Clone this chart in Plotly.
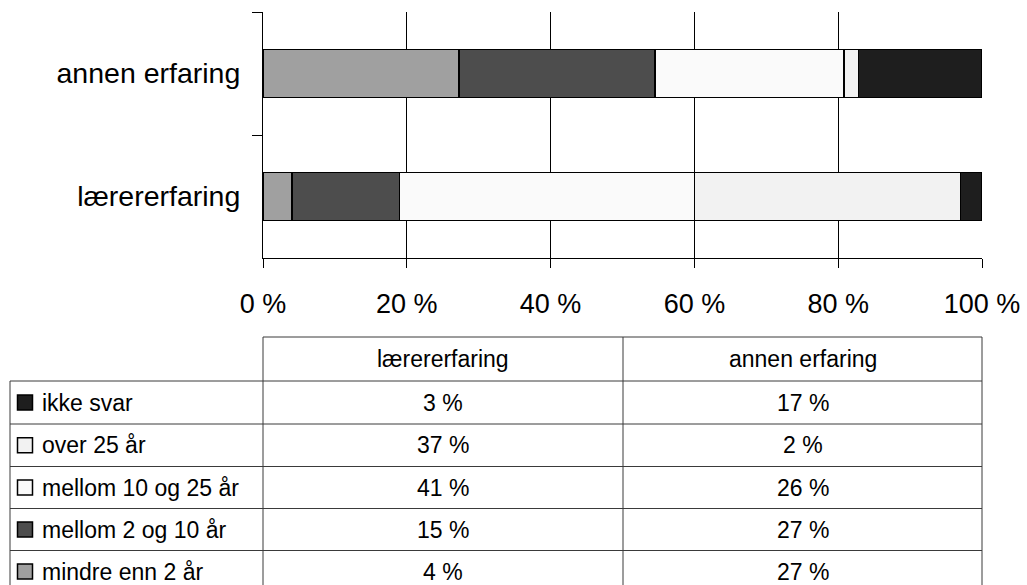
import plotly.graph_objects as go

# ---- data -------------------------------------------------------------
categories = ["lærererfaring", "annen erfaring"]
series_names = ["mindre enn 2 år", "mellom 2 og 10 år", "mellom 10 og 25 år",
                "over 25 år", "ikke svar"]
laerer_values = [4, 15, 41, 37, 3]
annen_values = [27, 27, 26, 2, 17]
series_colors = ["#a0a0a0", "#4d4d4d", "#fafafa", "#f2f2f2", "#1e1e1e"]
x_tickvals = [0, 20, 40, 60, 80, 100]
x_ticktext = ["0 %", "20 %", "40 %", "60 %", "80 %", "100 %"]

# ---- page geometry (pixels) ------------------------------------------
W, H = 1027, 585
PLOT_L, PLOT_R, PLOT_T, PLOT_B = 263, 982, 12, 258
FONT = "Liberation Sans, Arial, sans-serif"


def px(x):
    """Horizontal pixel -> paper fraction (margins are zero)."""
    return x / W


def py(y):
    """Vertical pixel (from top) -> paper fraction."""
    return 1 - y / H


fig = go.Figure()

for name, a, b, col in zip(series_names, laerer_values, annen_values, series_colors):
    fig.add_trace(go.Bar(
        name=name, orientation="h",
        y=categories, x=[a, b],
        marker=dict(color=col, line=dict(color="black", width=1.5)),
        showlegend=False, hoverinfo="skip",
    ))

fig.update_layout(
    width=W, height=H,
    margin=dict(l=0, r=0, t=0, b=0, autoexpand=False),
    paper_bgcolor="white", plot_bgcolor="white",
    barmode="stack", barnorm="percent", bargap=0.61,
    font=dict(family=FONT, color="black"),
    xaxis=dict(
        domain=[px(PLOT_L), px(PLOT_R)], range=[0, 100],
        tickvals=x_tickvals, ticktext=x_ticktext,
        tickfont=dict(size=27, family=FONT, color="black"),
        showgrid=True, gridcolor="black", gridwidth=1,
        showline=True, linecolor="black", linewidth=1,
        ticks="outside", ticklen=9, tickcolor="black",
        zeroline=False, ticklabelstandoff=13, automargin=False,
    ),
    yaxis=dict(
        domain=[py(PLOT_B), py(PLOT_T)],
        type="category", categoryorder="array", categoryarray=categories,
        tickfont=dict(size=28.5, family=FONT, color="black"),
        showgrid=False, showline=True, linecolor="black", linewidth=1,
        ticks="outside", ticklen=10, tickcolor="black",
        tickson="boundaries", ticklabelstandoff=16, automargin=False,
    ),
)

# ---- data table beneath the chart ------------------------------------
col_edges = [10, 263, 623, 982]
row_edges = [337, 381, 424, 466.5, 508.5, 550.5, 592.5]
LINE = dict(color="#3a3a3a", width=1)
shapes = []


def hline(y, x0, x1):
    shapes.append(dict(type="line", xref="paper", yref="paper",
                       x0=px(x0), x1=px(x1), y0=py(y), y1=py(y), line=LINE))


def vline(x, y0, y1):
    shapes.append(dict(type="line", xref="paper", yref="paper",
                       x0=px(x), x1=px(x), y0=py(y0), y1=py(y1), line=LINE))


hline(row_edges[0], col_edges[1], col_edges[3])
for y in row_edges[1:]:
    hline(y, col_edges[0], col_edges[3])
vline(col_edges[0], row_edges[1], row_edges[-1])
for x in col_edges[1:]:
    vline(x, row_edges[0], row_edges[-1])

annotations = []
table_font = dict(size=23, family=FONT, color="black")
col_centers = [(col_edges[i] + col_edges[i + 1]) / 2 for i in (1, 2)]
header_mid = (row_edges[0] + row_edges[1]) / 2
for cx, label in zip(col_centers, categories):
    annotations.append(dict(xref="paper", yref="paper", x=px(cx), y=py(header_mid),
                            text=label, showarrow=False, xanchor="center",
                            yanchor="middle", font=table_font))

# table rows list the series top-down in reverse stacking order
order = list(range(len(series_names)))[::-1]
SW = 15
for r, idx in enumerate(order):
    ymid = (row_edges[r + 1] + row_edges[r + 2]) / 2
    shapes.append(dict(type="rect", xref="paper", yref="paper",
                       x0=px(17.5), x1=px(17.5 + SW),
                       y0=py(ymid + SW / 2), y1=py(ymid - SW / 2),
                       fillcolor=series_colors[idx], line=dict(color="black", width=1.5)))
    annotations.append(dict(xref="paper", yref="paper", x=px(40), y=py(ymid),
                            text=series_names[idx], showarrow=False,
                            xanchor="left", yanchor="middle", font=table_font))
    for cx, vals in zip(col_centers, [laerer_values, annen_values]):
        annotations.append(dict(xref="paper", yref="paper", x=px(cx), y=py(ymid),
                                text=f"{vals[idx]} %", showarrow=False,
                                xanchor="center", yanchor="middle", font=table_font))

fig.update_layout(shapes=shapes, annotations=annotations)
fig.write_html("out.html")
